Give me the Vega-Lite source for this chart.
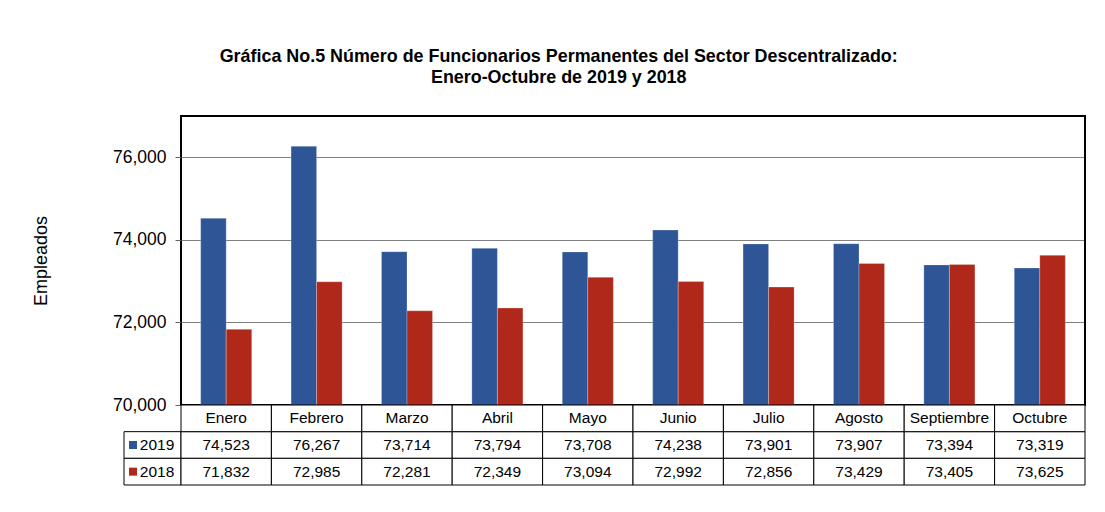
{
  "$schema": "https://vega.github.io/schema/vega-lite/v6.json",
  "padding": {"left": 31, "top": 48, "right": 10, "bottom": 10},
  "config": {
    "font": "Liberation Sans",
    "view": {"stroke": null},
    "concat": {"spacing": 0}
  },
  "title": {
    "text": ["Gráfica No.5 Número de Funcionarios Permanentes del Sector Descentralizado:", "Enero-Octubre  de 2019 y 2018"],
    "fontSize": 17.9,
    "fontWeight": "bold",
    "color": "#000000",
    "anchor": "middle",
    "frame": "bounds",
    "lineHeight": 21,
    "offset": 28
  },
  "datasets": {
    "d": [
      {"month": "Enero", "year": "2019", "value": 74523},
      {"month": "Febrero", "year": "2019", "value": 76267},
      {"month": "Marzo", "year": "2019", "value": 73714},
      {"month": "Abril", "year": "2019", "value": 73794},
      {"month": "Mayo", "year": "2019", "value": 73708},
      {"month": "Junio", "year": "2019", "value": 74238},
      {"month": "Julio", "year": "2019", "value": 73901},
      {"month": "Agosto", "year": "2019", "value": 73907},
      {"month": "Septiembre", "year": "2019", "value": 73394},
      {"month": "Octubre", "year": "2019", "value": 73319},
      {"month": "Enero", "year": "2018", "value": 71832},
      {"month": "Febrero", "year": "2018", "value": 72985},
      {"month": "Marzo", "year": "2018", "value": 72281},
      {"month": "Abril", "year": "2018", "value": 72349},
      {"month": "Mayo", "year": "2018", "value": 73094},
      {"month": "Junio", "year": "2018", "value": 72992},
      {"month": "Julio", "year": "2018", "value": 72856},
      {"month": "Agosto", "year": "2018", "value": 73429},
      {"month": "Septiembre", "year": "2018", "value": 73405},
      {"month": "Octubre", "year": "2018", "value": 73625}
    ]
  },
  "columns": 2,
  "bounds": "flush",
  "spacing": 0,
  "concat": [
    {
      "width": 57,
      "height": 289,
      "data": {"values": []},
      "mark": "text",
      "encoding": {}
    },
    {
      "width": 904,
      "height": 289,
      "view": {"stroke": "#000000", "strokeWidth": 2},
      "data": {"name": "d"},
      "mark": {"type": "bar", "clip": true, "stroke": "#ffffff", "strokeOpacity": 0.25, "strokeWidth": 1},
      "encoding": {
        "x": {
          "field": "month",
          "type": "nominal",
          "sort": ["Enero", "Febrero", "Marzo", "Abril", "Mayo", "Junio", "Julio", "Agosto", "Septiembre", "Octubre"],
          "scale": {"paddingInner": 0.435, "paddingOuter": 0.2175},
          "axis": null
        },
        "xOffset": {
          "field": "year",
          "type": "nominal",
          "sort": ["2019", "2018"],
          "scale": {"paddingInner": 0, "paddingOuter": 0}
        },
        "y": {
          "field": "value",
          "type": "quantitative",
          "scale": {"domain": [70000, 77000], "nice": false, "zero": false},
          "axis": {
            "title": "Empleados",
            "titleFontSize": 18,
            "titleFontWeight": "normal",
            "titleColor": "#000000",
            "titlePadding": 62,
            "values": [70000, 72000, 74000, 76000],
            "format": ",.0f",
            "labelFontSize": 17.5,
            "labelColor": "#000000",
            "labelPadding": 9,
            "tickSize": 6,
            "tickColor": "#666666",
            "domain": false,
            "grid": true,
            "gridColor": "#000000",
            "gridDash": [1, 1],
            "gridWidth": 1,
            "gridOpacity": 1
          }
        },
        "color": {
          "field": "year",
          "type": "nominal",
          "scale": {"domain": ["2019", "2018"], "range": ["#2E5596", "#B0281A"]},
          "legend": null
        }
      }
    },
    {
      "width": 57,
      "height": 80,
      "data": {"name": "d"},
      "transform": [{"filter": "datum.month === 'Enero'"}],
      "encoding": {
        "y": {
          "field": "year",
          "type": "nominal",
          "scale": {"type": "band", "domain": ["hdr", "2019", "2018"], "paddingInner": 0, "paddingOuter": 0},
          "axis": null
        }
      },
      "layer": [
        {"mark": {"type": "rect", "fill": "#ffffff", "stroke": "#000000", "strokeWidth": 1}},
        {
          "mark": {"type": "point", "shape": "square", "filled": true, "size": 64, "opacity": 1, "xOffset": -19.5},
          "encoding": {
            "color": {
              "field": "year",
              "type": "nominal",
              "scale": {"domain": ["2019", "2018"], "range": ["#2E5596", "#B0281A"]},
              "legend": null
            }
          }
        },
        {
          "mark": {"type": "text", "fontSize": 15.5, "color": "#000000", "dx": 4.5},
          "encoding": {"text": {"field": "year", "type": "nominal"}}
        }
      ]
    },
    {
      "width": 904,
      "height": 80,
      "data": {"name": "d"},
      "encoding": {
        "x": {
          "field": "month",
          "type": "nominal",
          "sort": ["Enero", "Febrero", "Marzo", "Abril", "Mayo", "Junio", "Julio", "Agosto", "Septiembre", "Octubre"],
          "scale": {"paddingInner": 0, "paddingOuter": 0},
          "axis": null
        }
      },
      "layer": [
        {
          "mark": {"type": "rect", "fill": "#ffffff", "stroke": "#000000", "strokeWidth": 1},
          "encoding": {
            "y": {
              "field": "year",
              "type": "nominal",
              "scale": {"type": "band", "domain": ["hdr", "2019", "2018"], "paddingInner": 0, "paddingOuter": 0},
              "axis": null
            }
          }
        },
        {
          "transform": [{"filter": "datum.year === '2019'"}],
          "mark": {"type": "rect", "fill": "#ffffff", "stroke": "#000000", "strokeWidth": 1},
          "encoding": {"y": {"datum": "hdr", "type": "nominal"}}
        },
        {
          "transform": [{"filter": "datum.year === '2019'"}],
          "mark": {"type": "text", "fontSize": 15.5, "color": "#000000"},
          "encoding": {
            "y": {"datum": "hdr", "type": "nominal"},
            "text": {"field": "month", "type": "nominal"}
          }
        },
        {
          "mark": {"type": "text", "fontSize": 15.5, "color": "#000000"},
          "encoding": {
            "y": {"field": "year", "type": "nominal"},
            "text": {"field": "value", "type": "quantitative", "format": ","}
          }
        }
      ]
    }
  ]
}
